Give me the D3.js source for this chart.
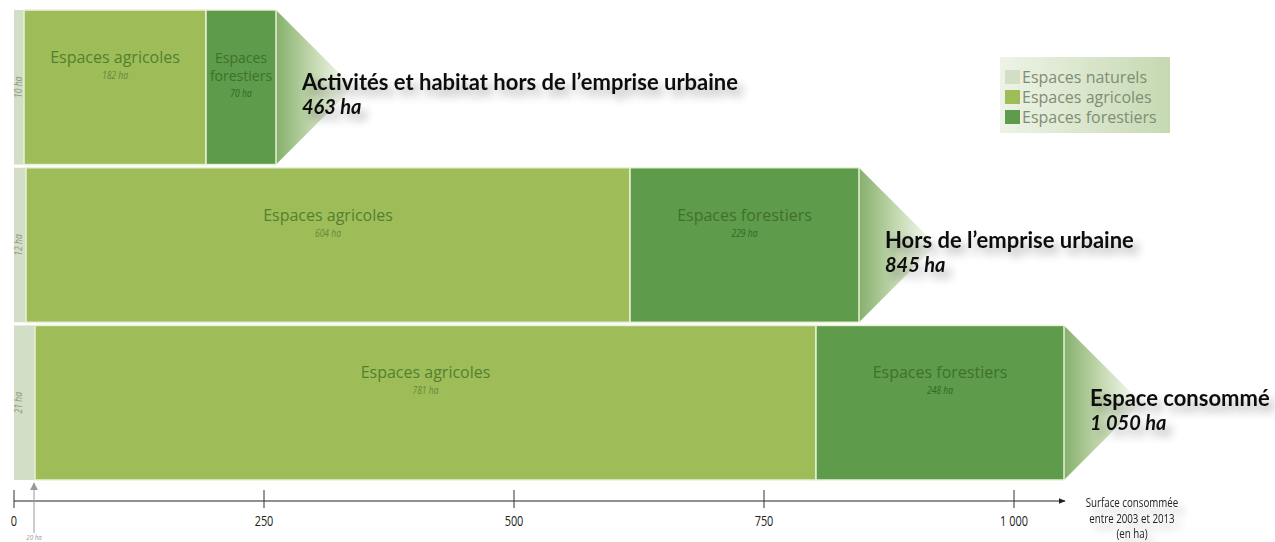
<!DOCTYPE html>
<html>
<head>
<meta charset="utf-8">
<script src="https://cdn.jsdelivr.net/npm/d3@7"></script>
<style>
  body { margin: 0; background: #fff; }
  svg { display: block; }
</style>
</head>
<body>
<script>
// values (ha)
let rows = ["Activités et habitat hors de l’emprise urbaine", "Hors de l’emprise urbaine", "Espace consommé"];
let totals = ["463 ha", "845 ha", "1 050 ha"];
let naturels = [10, 12, 21];
let agricoles = [182, 604, 781];
let forestiers = [70, 229, 248];
let tickValues = [0, 250, 500, 750, 1000];
let tickLabels = ["0", "250", "500", "750", "1 000"];
let legendLabels = ["Espaces naturels", "Espaces agricoles", "Espaces forestiers"];
let axisTitle = ["Surface consommée", "entre 2003 et 2013", "(en ha)"];
let marker20 = 20;

let width = 1275, height = 542;
let colors = {nat: "#d2dec6", agri: "#9ebd59", forest: "#5e9b4a"};
let sans = "'Open Sans', sans-serif";
// no condensed face installed: squeeze Open Sans horizontally instead
let squeeze = 0.78;

let svg = d3.select("body").append("svg")
    .attr("width", width)
    .attr("height", height);

let defs = svg.append("defs");

let grad = defs.append("linearGradient")
    .attr("id", "fade")
    .attr("x1", "0%").attr("x2", "100%")
    .attr("y1", "0%").attr("y2", "0%");
grad.append("stop").attr("offset", "0%").attr("stop-color", "#86b06c");
grad.append("stop").attr("offset", "50%").attr("stop-color", "#c6dab3");
grad.append("stop").attr("offset", "100%").attr("stop-color", "#ffffff");

let lgrad = defs.append("linearGradient")
    .attr("id", "legendbg")
    .attr("x1", "0%").attr("x2", "100%");
lgrad.append("stop").attr("offset", "0%").attr("stop-color", "#eef3e7");
lgrad.append("stop").attr("offset", "100%").attr("stop-color", "#c6d9b2");

let shadow = defs.append("filter")
    .attr("id", "shadow")
    .attr("x", "-10%").attr("y", "-50%")
    .attr("width", "130%").attr("height", "250%");
shadow.append("feGaussianBlur").attr("in", "SourceAlpha").attr("stdDeviation", 4).attr("result", "blur");
shadow.append("feOffset").attr("in", "blur").attr("dx", 6).attr("dy", 7).attr("result", "off");
shadow.append("feComponentTransfer").attr("in", "off").attr("result", "soft")
  .append("feFuncA").attr("type", "linear").attr("slope", 0.3);
let merge = shadow.append("feMerge");
merge.append("feMergeNode").attr("in", "soft");
merge.append("feMergeNode").attr("in", "SourceGraphic");

defs.append("marker")
    .attr("id", "arrow")
    .attr("viewBox", "0 -5 10 10")
    .attr("refX", 9).attr("refY", 0)
    .attr("markerWidth", 7).attr("markerHeight", 7)
    .attr("orient", "auto")
    .attr("markerUnits", "userSpaceOnUse")
  .append("path")
    .attr("d", "M0,-4L10,0L0,4Z")
    .attr("fill", "#222");

defs.append("marker")
    .attr("id", "arrowGrey")
    .attr("viewBox", "0 -5 10 10")
    .attr("refX", 9).attr("refY", 0)
    .attr("markerWidth", 8).attr("markerHeight", 8)
    .attr("orient", "auto")
    .attr("markerUnits", "userSpaceOnUse")
  .append("path")
    .attr("d", "M0,-5L10,0L0,5Z")
    .attr("fill", "#999");

let x = d3.scaleLinear().domain([0, 1000]).range([14, 1014]);
let y = d3.scaleBand().domain(rows).range([10, 480]).paddingInner(0.02);
let bw = y.bandwidth();

let data = rows.map((r, i) => ({
  row: r, total: totals[i],
  nat: naturels[i], agri: agricoles[i], forest: forestiers[i]
}));

// helper: condensed text at (cx, cy)
function narrowText(sel, cx, cy) {
  return sel.append("g")
      .attr("transform", "translate(" + cx + "," + cy + ") scale(" + squeeze + ",1)")
    .append("text")
      .attr("font-family", sans);
}

let row = svg.append("g").selectAll("g")
    .data(data)
    .enter().append("g")
    .attr("transform", d => "translate(0," + y(d.row) + ")");

// fading triangle after each bar
row.append("path")
    .attr("d", d => {
      let e = x(d.nat + d.agri + d.forest);
      return "M" + e + ",0L" + (e + bw / 2) + "," + (bw / 2) + "L" + e + "," + bw + "Z";
    })
    .attr("fill", "url(#fade)");

// segments
row.append("rect")
    .attr("x", x(0))
    .attr("width", d => x(d.nat) - x(0))
    .attr("height", bw)
    .attr("fill", colors.nat);

row.append("rect")
    .attr("x", d => x(d.nat))
    .attr("width", d => x(d.nat + d.agri) - x(d.nat))
    .attr("height", bw)
    .attr("fill", colors.agri)
    .attr("stroke", "#e9f1d6")
    .attr("stroke-width", 1.5);

row.append("rect")
    .attr("x", d => x(d.nat + d.agri))
    .attr("width", d => x(d.nat + d.agri + d.forest) - x(d.nat + d.agri))
    .attr("height", bw)
    .attr("fill", colors.forest)
    .attr("stroke", "#e9f1d6")
    .attr("stroke-width", 1.5);

// natural labels (rotated)
row.append("text")
    .attr("transform", d => "translate(" + (x(0) + 8) + "," + (bw / 2) + ") rotate(-90) scale(" + squeeze + ",1)")
    .attr("text-anchor", "middle")
    .attr("font-family", sans)
    .attr("font-style", "italic")
    .attr("font-size", 11)
    .attr("fill", "#8a9880")
    .text(d => d.nat + " ha");

// agricultural labels
row.append("text")
    .attr("x", d => (x(d.nat) + x(d.nat + d.agri)) / 2)
    .attr("y", 53)
    .attr("text-anchor", "middle")
    .attr("font-family", sans)
    .attr("font-size", 16)
    .attr("fill", "#53802f")
    .text("Espaces agricoles");

row.each(function(d) {
  narrowText(d3.select(this), (x(d.nat) + x(d.nat + d.agri)) / 2, 69)
      .attr("text-anchor", "middle")
      .attr("font-style", "italic")
      .attr("font-size", 11)
      .attr("fill", "#658837")
      .text(d.agri + " ha");
});

// forest labels, wrapped when the segment is narrow
row.each(function(d) {
  let x0 = x(d.nat + d.agri), x1 = x(d.nat + d.agri + d.forest);
  let cx = (x0 + x1) / 2;
  let words = (x1 - x0) < 140 ? ["Espaces", "forestiers"] : ["Espaces forestiers"];
  let t = d3.select(this).append("text")
      .attr("text-anchor", "middle")
      .attr("font-family", sans)
      .attr("font-size", words.length > 1 ? 14 : 16)
      .attr("fill", "#3f7228");
  words.forEach((w, i) => {
    t.append("tspan").attr("x", cx).attr("y", 53 + i * 18).text(w);
  });
  narrowText(d3.select(this), cx, 69 + (words.length - 1) * 18)
      .attr("text-anchor", "middle")
      .attr("font-style", "italic")
      .attr("font-size", 11)
      .attr("fill", "#356622")
      .text(d.forest + " ha");
});

// titles
let title = row.append("text")
    .attr("filter", "url(#shadow)")
    .attr("font-family", "Lato, 'Open Sans', sans-serif")
    .attr("fill", "#111");

title.append("tspan")
    .attr("x", d => x(d.nat + d.agri + d.forest) + 26)
    .attr("y", bw / 2 + 3)
    .attr("font-weight", "bold")
    .attr("font-size", 22)
    .text(d => d.row);

title.append("tspan")
    .attr("x", d => x(d.nat + d.agri + d.forest) + 26)
    .attr("y", bw / 2 + 27)
    .attr("font-weight", "bold")
    .attr("font-style", "italic")
    .attr("font-size", 20)
    .text(d => d.total);

// axis
let axisY = 501;
svg.append("line")
    .attr("x1", x(0)).attr("x2", x(1050) + 1)
    .attr("y1", axisY).attr("y2", axisY)
    .attr("stroke", "#222")
    .attr("stroke-width", 1.2)
    .attr("marker-end", "url(#arrow)");

let ticks = svg.append("g").selectAll("g")
    .data(tickValues)
    .enter().append("g")
    .attr("transform", d => "translate(" + x(d) + "," + axisY + ")");

ticks.append("line")
    .attr("y1", -11).attr("y2", 7)
    .attr("stroke", "#333")
    .attr("stroke-width", 1);

ticks.append("text")
    .attr("transform", "translate(0,25) scale(" + squeeze + ",1)")
    .attr("text-anchor", "middle")
    .attr("font-family", sans)
    .attr("font-size", 14)
    .attr("fill", "#222")
    .text((d, i) => tickLabels[i]);

// axis title, one text per line
let atg = svg.append("g").attr("filter", "url(#shadow)");
axisTitle.forEach((s, i) => {
  narrowText(atg, 1132, 507 + i * 15.7)
      .attr("text-anchor", "middle")
      .attr("font-size", 12.5)
      .attr("fill", "#222")
      .text(s);
});

// 20 ha marker
svg.append("line")
    .attr("x1", x(marker20)).attr("x2", x(marker20))
    .attr("y1", 533).attr("y2", 483)
    .attr("stroke", "#999")
    .attr("stroke-width", 1)
    .attr("marker-end", "url(#arrowGrey)");

narrowText(svg, x(marker20), 540)
    .attr("text-anchor", "middle")
    .attr("font-style", "italic")
    .attr("font-size", 8)
    .attr("fill", "#999")
    .text(marker20 + " ha");

// legend
let legend = svg.append("g").attr("transform", "translate(1000,57)");
legend.append("rect")
    .attr("width", 170).attr("height", 76)
    .attr("fill", "url(#legendbg)");

let li = legend.selectAll("g")
    .data(legendLabels)
    .enter().append("g")
    .attr("transform", (d, i) => "translate(5," + (13 + i * 20) + ")");

li.append("rect")
    .attr("width", 15).attr("height", 14)
    .attr("fill", (d, i) => [colors.nat, colors.agri, colors.forest][i]);

li.append("text")
    .attr("x", 17).attr("y", 13)
    .attr("font-family", sans)
    .attr("font-size", 16)
    .attr("fill", "#7d8e74")
    .text(d => d);
</script>
</body>
</html>
